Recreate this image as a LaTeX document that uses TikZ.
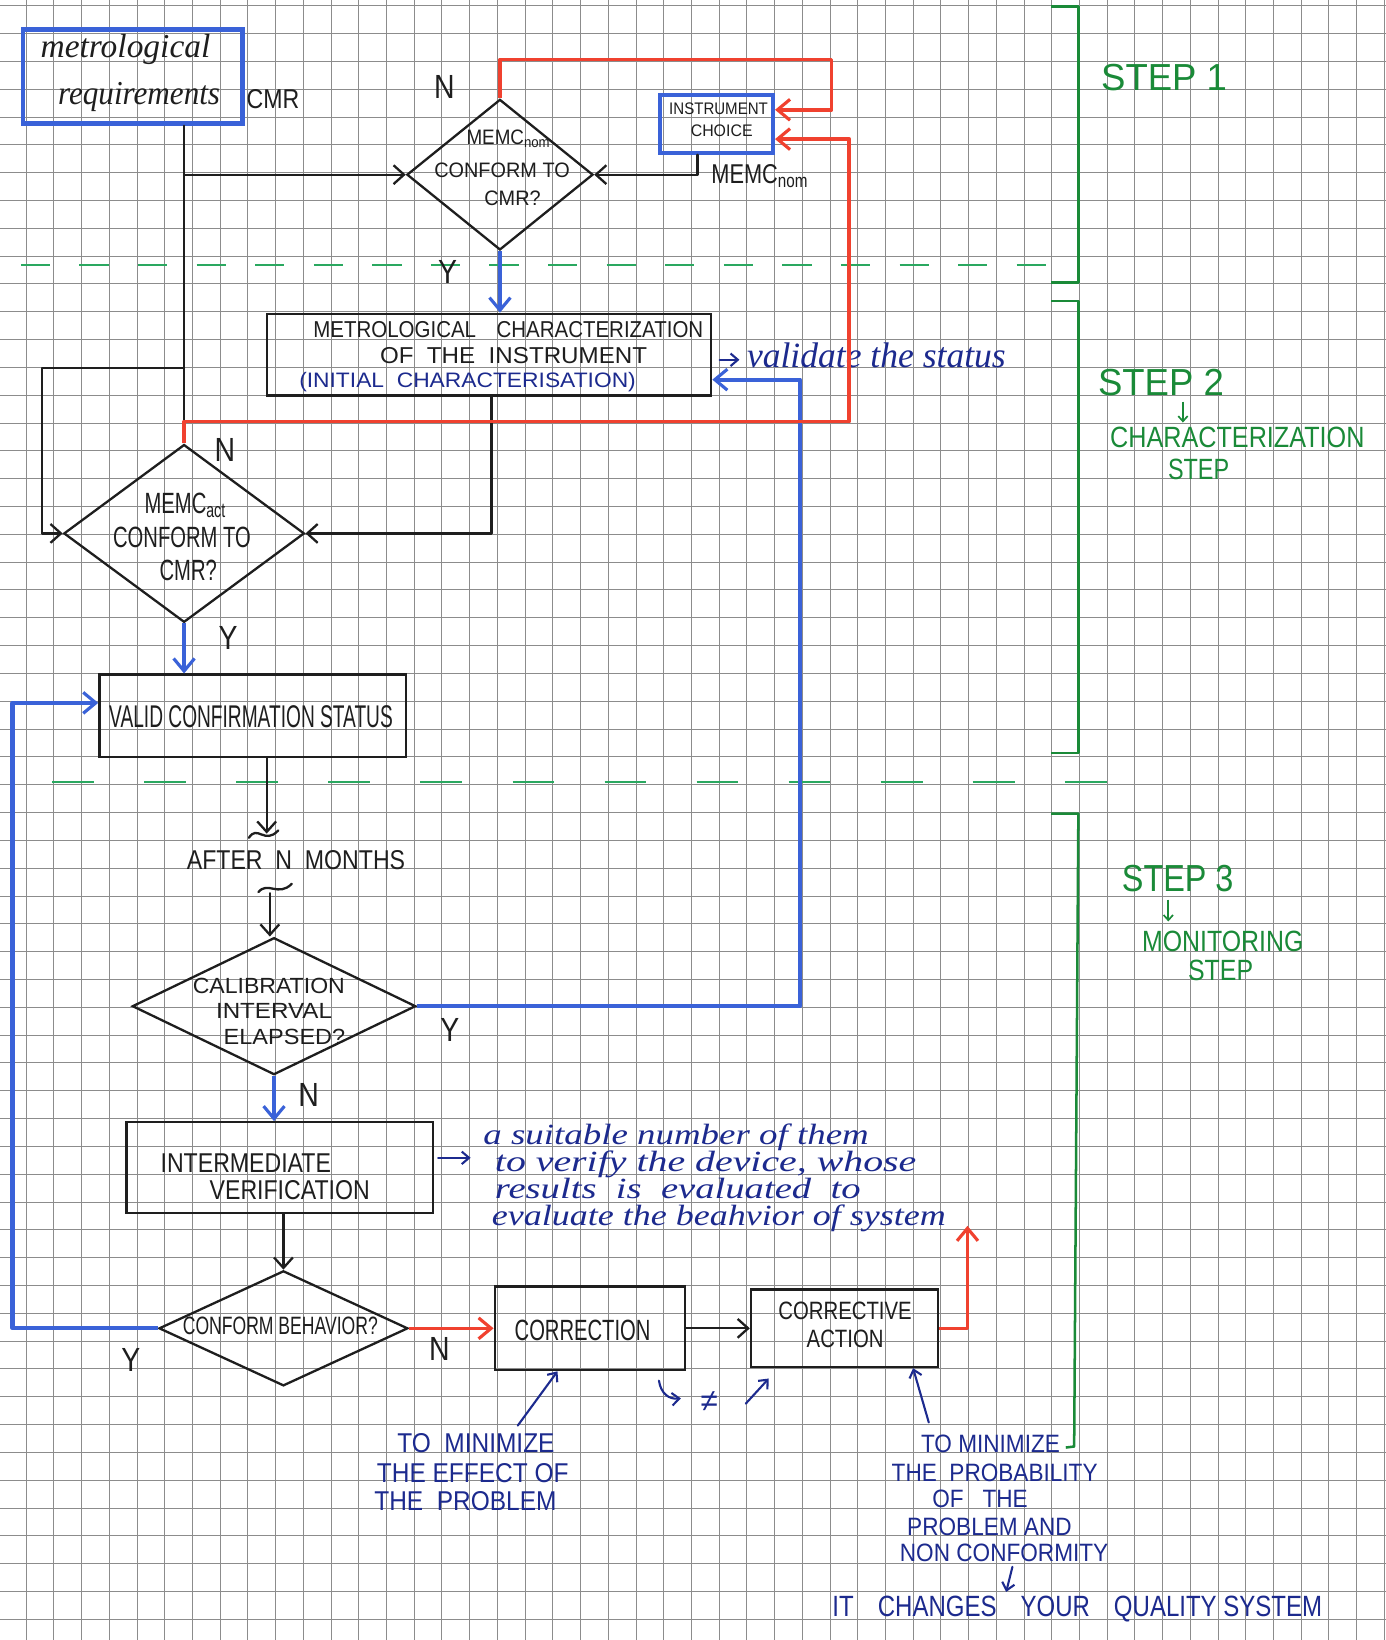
\documentclass[tikz,border=0pt]{standalone}
\usepackage{fontspec}
\setmainfont{Liberation Sans}
\newfontfamily\cursive{Liberation Serif}
\usepackage{graphicx}
\usetikzlibrary{arrows.meta,shapes.geometric}
\definecolor{ink}{HTML}{1E1E1E}
\definecolor{mblue}{HTML}{3A62D8}
\definecolor{pblue}{HTML}{1C2A8E}
\definecolor{mred}{HTML}{F0412F}
\definecolor{sgreen}{HTML}{1A8A38}
\definecolor{dgreen}{HTML}{2AA860}
\definecolor{gridc}{HTML}{8C8C8C}
\newcommand\hw[2][1]{\scalebox{#1}[1]{#2}}
\newcommand\fsz[1]{\fontsize{#1}{#1}\selectfont}
\tikzset{
 ln/.style={draw=ink, line width=2.2pt, line cap=round, line join=round},
 arr/.style={ln, -{Straight Barb[length=10pt,width=18pt,line width=2.2pt]}},
 bl/.style={draw=mblue, line width=4pt, line join=round},
 barr/.style={bl, -{Straight Barb[length=12pt,width=20pt,line width=3pt]}},
 rl/.style={draw=mred, line width=3.5pt, line join=round},
 rarr/.style={rl, -{Straight Barb[length=12pt,width=20pt,line width=3pt]}},
 parr/.style={draw=pblue, line width=2pt, line cap=round, -{Straight Barb[length=7pt,width=12pt,line width=2pt]}},
 box/.style={draw=ink, line width=2.2pt, rectangle, inner sep=0pt},
 bbox/.style={draw=mblue, line width=4.5pt, rectangle, inner sep=0pt},
 dia/.style={draw=ink, line width=2.2pt, diamond, inner sep=0pt},
 txt/.style={text=ink, inner sep=0pt},
 pen/.style={text=pblue, inner sep=0pt},
 gtxt/.style={text=sgreen, inner sep=0pt},
 gbr/.style={draw=sgreen, line width=2.4pt, line join=round},
 gdash/.style={draw=dgreen, line width=1.8pt, dash pattern=on 28pt off 28pt},
 gdashb/.style={draw=dgreen, line width=1.8pt, dash pattern=on 40pt off 48pt}
}
\begin{document}
\begin{tikzpicture}[x=1pt,y=-1pt]
\fill[white] (0,0) rectangle (1325,1568);
\useasboundingbox (0,0) rectangle (1325,1568);
% grid paper
\foreach \i in {1,...,50} \draw[gridc, line width=0.8pt] ({-1.5+26.5*\i},0) -- ++(0,1568);
\foreach \j in {0,...,58} \draw[gridc, line width=0.8pt] (0,{5.4+26.6*\j}) -- ++(1325,0);

% green separators and step brackets
\draw[gdash] (20,253) -- (1000,253);
\draw[gdashb] (50,748) -- (1080,748);
\draw[gbr] (1005,6) -- (1031,6) -- (1031,270) -- (1005,270);
\draw[gbr] (1005,288) -- (1031,288) -- (1031,720) -- (1005,720);
\draw[gbr] (1005,778) -- (1031,778) -- (1027,1383) -- (1019,1384);
\node[gtxt, font={\fsz{36}}] (s1) at (1113,74) {\hw[0.97]{STEP 1}};
\node[gtxt, font={\fsz{36}}] (s2) at (1110,366) {\hw[0.97]{STEP 2}};
\coordinate (s2a) at (1131,384); \coordinate (s2b) at (1131,404);
\draw[draw=sgreen, line width=1.6pt, -{Straight Barb[length=5pt,width=9pt]}] (s2a) -- (s2b);
\node[gtxt, font={\fsz{28}}] (s2c) at (1183,418) {\hw[0.86]{CHARACTERIZATION}};
\node[gtxt, font={\fsz{28}}] (s2d) at (1146,449) {\hw[0.8]{STEP}};
\node[gtxt, font={\fsz{36}}] (s3) at (1126,840) {\hw[0.86]{STEP 3}};
\coordinate (s3a) at (1117,860); \coordinate (s3b) at (1117,881);
\draw[draw=sgreen, line width=1.6pt, -{Straight Barb[length=5pt,width=9pt]}] (s3a) -- (s3b);
\node[gtxt, font={\fsz{28}}] (s3c) at (1169,900) {\hw[0.85]{MONITORING}};
\node[gtxt, font={\fsz{28}}] (s3d) at (1167,928) {\hw[0.85]{STEP}};

% nodes
\node[bbox, minimum width=210pt, minimum height=90pt] (A) at (127,73) {};
\node[txt, font={\cursive\itshape\fsz{32}}] (tA1) at (120,47) {metrological};
\node[txt, font={\cursive\itshape\fsz{32}}] (tA2) at (133,93) {\hw[0.93]{requirements}};
\node[txt, font={\fsz{26}}] (tCMR) at (261,95) {\hw[0.85]{CMR}};

\node[dia, minimum width=178pt, minimum height=144pt] (D1) at (478,167) {};
\node[txt, font={\fsz{20}}] (tD1a) at (486,133) {\hw[0.9]{MEMC\textsubscript{nom}}};
\node[txt, font={\fsz{20}}] (tD1b) at (480,163) {\hw[0.95]{CONFORM TO}};
\node[txt, font={\fsz{20}}] (tD1c) at (490,190) {\hw[0.95]{CMR?}};
\node[txt, font={\fsz{32}}] (nD1) at (425,83) {\hw[0.85]{N}};
\node[txt, font={\fsz{32}}] (yD1) at (428,260) {\hw[0.85]{Y}};

\node[bbox, line width=4pt, minimum width=108pt, minimum height=55pt] (IC) at (685,118.5) {};
\node[txt, font={\fsz{16}}] (tIC1) at (687,104) {\hw[0.9]{INSTRUMENT}};
\node[txt, font={\fsz{16}}] (tIC2) at (690,125) {\hw[0.95]{CHOICE}};
\node[txt, font={\fsz{26}}, anchor=west] (tMn) at (680,168) {\hw[0.8]{MEMC\textsubscript{nom}}};

\node[box, minimum width=425pt, minimum height=78pt] (B) at (467.5,339) {};
\node[txt, font={\fsz{22}}] (tB1) at (486,315) {\hw[0.89]{METROLOGICAL\quad CHARACTERIZATION}};
\node[txt, font={\fsz{22}}] (tB2) at (491,340) {\hw[1.05]{OF\ \ THE\ \ INSTRUMENT}};
\node[pen, font={\fsz{20}}] (tB3) at (447,365) {\hw[1.09]{(INITIAL\ \ CHARACTERISATION)}};
\node[pen, font={\cursive\itshape\fsz{34}}, anchor=base west] (tval) at (714,351) {validate the status};

\node[dia, minimum width=230pt, minimum height=170pt] (D2) at (176,510) {};
\node[txt, font={\fsz{28}}] (tD2a) at (177,483) {\hw[0.69]{MEMC\textsubscript{act}}};
\node[txt, font={\fsz{28}}] (tD2b) at (174,514) {\hw[0.69]{CONFORM TO}};
\node[txt, font={\fsz{28}}] (tD2c) at (180,545) {\hw[0.69]{CMR?}};
\node[txt, font={\fsz{32}}] (nD2) at (215,430) {\hw[0.85]{N}};
\node[txt, font={\fsz{32}}] (yD2) at (218,610) {\hw[0.85]{Y}};

\node[box, minimum width=293pt, minimum height=79pt] (C) at (241.5,684.5) {};
\node[txt, font={\fsz{30}}] (tC) at (240,685) {\hw[0.61]{VALID CONFIRMATION STATUS}};

\node[txt, font={\fsz{26}}] (tAfter) at (283,822) {\hw[0.85]{AFTER\ \ N\ \ MONTHS}};

\node[dia, minimum width=271pt, minimum height=131pt] (D3) at (262,962) {};
\node[txt, font={\fsz{21}}] (tD3a) at (257,943) {\hw[1.05]{CALIBRATION}};
\node[txt, font={\fsz{21}}] (tD3b) at (262,967) {\hw[1.1]{INTERVAL}};
\node[txt, font={\fsz{21}}] (tD3c) at (272,991) {\hw[1.07]{ELAPSED?}};
\node[txt, font={\fsz{32}}] (yD3) at (430,985) {\hw[0.85]{Y}};
\node[txt, font={\fsz{32}}] (nD3) at (295,1047) {\hw[0.85]{N}};

\node[box, minimum width=293pt, minimum height=87pt] (Dv) at (267.5,1116.5) {};
\node[txt, font={\fsz{26}}] (tDv1) at (235,1112) {\hw[0.85]{INTERMEDIATE}};
\node[txt, font={\fsz{26}}] (tDv2) at (277,1138) {\hw[0.85]{VERIFICATION}};

\node[pen, font={\cursive\itshape\fsz{28}}, anchor=base west] (p1) at (462,1094) {\hw[1.26]{a suitable number of them}};
\node[pen, font={\cursive\itshape\fsz{28}}, anchor=base west] (p2) at (473,1120) {\hw[1.36]{to verify the device, whose}};
\node[pen, font={\cursive\itshape\fsz{28}}, anchor=base west] (p3) at (473,1146) {\hw[1.32]{results\ \ is\ \ evaluated\ \ to}};
\node[pen, font={\cursive\itshape\fsz{28}}, anchor=base west] (p4) at (470,1172) {\hw[1.23]{evaluate the beahvior of system}};

\node[dia, minimum width=238pt, minimum height=110pt] (D4) at (271,1270) {};
\node[txt, font={\fsz{24}}] (tD4) at (268,1268) {\hw[0.7]{CONFORM BEHAVIOR?}};
\node[txt, font={\fsz{32}}] (yD4) at (125,1300) {\hw[0.85]{Y}};
\node[txt, font={\fsz{32}}] (nD4) at (420,1290) {\hw[0.85]{N}};

\node[box, minimum width=182pt, minimum height=80pt] (E) at (564,1270) {};
\node[txt, font={\fsz{28}}] (tE) at (557,1272) {\hw[0.69]{CORRECTION}};
\node[box, minimum width=179pt, minimum height=74pt] (F) at (807.5,1270) {};
\node[txt, font={\fsz{24}}] (tF1) at (808,1253) {\hw[0.81]{CORRECTIVE}};
\node[txt, font={\fsz{24}}] (tF2) at (808,1280) {\hw[0.81]{ACTION}};

\node[pen, font={\fsz{26}}] (t1a) at (455,1380) {\hw[0.9]{TO\ \ MINIMIZE}};
\node[pen, font={\fsz{26}}] (t1b) at (452,1408) {\hw[0.9]{THE EFFECT OF}};
\node[pen, font={\fsz{26}}] (t1c) at (445,1435) {\hw[0.9]{THE\ \ PROBLEM}};
\node[pen, font={\fsz{30}}] (neq) at (678,1340) {≠};
\node[pen, font={\fsz{24}}] (t2a) at (947,1380) {\hw[0.9]{TO MINIMIZE}};
\node[pen, font={\fsz{24}}] (t2b) at (951,1408) {\hw[0.9]{THE\ \ PROBABILITY}};
\node[pen, font={\fsz{24}}] (t2c) at (937,1433) {\hw[0.9]{OF\ \ \ THE}};
\node[pen, font={\fsz{24}}] (t2d) at (946,1460) {\hw[0.9]{PROBLEM AND}};
\node[pen, font={\fsz{24}}] (t2e) at (960,1485) {\hw[0.9]{NON CONFORMITY}};
\node[pen, font={\fsz{28}}] (t3) at (1030,1538) {\hw[0.82]{IT\quad CHANGES\quad YOUR\quad QUALITY SYSTEM}};

% coordinates
\coordinate (j1) at (176,167);
\coordinate (j2) at (176,352);
\coordinate (j3) at (176,403);
\coordinate (l1) at (40,352);
\coordinate (l2) at (40,510);
\coordinate (c1) at (667,167);
\coordinate (r1) at (478,57);
\coordinate (r2) at (795,57);
\coordinate (r3) at (795,105);
\coordinate (r4) at (812,403);
\coordinate (r5) at (812,133);
\coordinate (k1) at (470,510);
\coordinate (a1) at (255,797);
\coordinate (a2) at (258,854);
\coordinate (b1) at (765,962);
\coordinate (b2) at (765,363);
\coordinate (y1) at (12,1270);
\coordinate (y2) at (12,672);
\coordinate (r6) at (925,1270);
\coordinate (r7) at (925,1172);
\coordinate (v1) at (688,344);
\coordinate (v2) at (707,344);
\coordinate (q1) at (419,1107);
\coordinate (q2) at (450,1107);
\coordinate (t1) at (495,1363);
\coordinate (x533) at (533,0);
\coordinate (t2) at (888,1360);
\coordinate (x873) at (873,0);
\coordinate (h1) at (630,1320);
\coordinate (h2) at (651,1337);
\coordinate (h3) at (713,1342);
\coordinate (h4) at (735,1318);
\coordinate (w1) at (968,1498);
\coordinate (w2) at (962,1522);

% black connectors
\draw[ln] (A.south -| j1) -- (j3);
\draw[arr] (j1) -- (D1.west);
\draw[arr] (IC.south -| c1) -- (c1) -- (D1.east);
\draw[arr] (j2) -- (l1) -- (l2) -- (D2.west);
\draw[arr] (B.south -| k1) -- (k1) -- (D2.east);
\draw[arr] (C.south -| a1) -- (a1);
\draw[ln] (238,801) .. controls (246,788) and (253,808) .. (266,794);
\draw[ln] (247,853) .. controls (256,842) and (266,858) .. (279,845);
\draw[arr] (a2) -- (a2 |- D3.north);
\draw[arr] (Dv.south -| D4.north) -- (D4.north);
\draw[arr] (E.east) -- (F.west);

% blue marker connectors
\draw[barr] (D1.south) -- (D1.south |- B.north);
\draw[barr] (D2.south) -- (D2.south |- C.north);
\draw[barr] (D3.east) -- (b1) -- (b2) -- (B.east |- b2);
\draw[barr] (D3.south) -- (D3.south |- Dv.north);
\draw[barr] (D4.west) -- (y1) -- (y2) -- (C.west |- y2);

% red connectors
\draw[rarr] (D1.north) -- (r1) -- (r2) -- (r3) -- (IC.east |- r3);
\draw[rarr] (D2.north) -- (D2.north |- r4) -- (r4) -- (r5) -- (IC.east |- r5);
\draw[rarr] (D4.east) -- (E.west);
\draw[rarr] (F.east) -- (r6) -- (r7);

% pen annotations
\draw[parr] (v1) -- (v2);
\draw[parr] (q1) -- (q2);
\draw[parr] (t1) -- (E.south -| x533);
\draw[parr] (t2) -- (F.south -| x873);
\draw[parr] (h1) .. controls (632,1333) and (640,1338) .. (h2);
\draw[parr] (h3) -- (h4);
\draw[parr] (w1) -- (w2);
\end{tikzpicture}
\end{document}
